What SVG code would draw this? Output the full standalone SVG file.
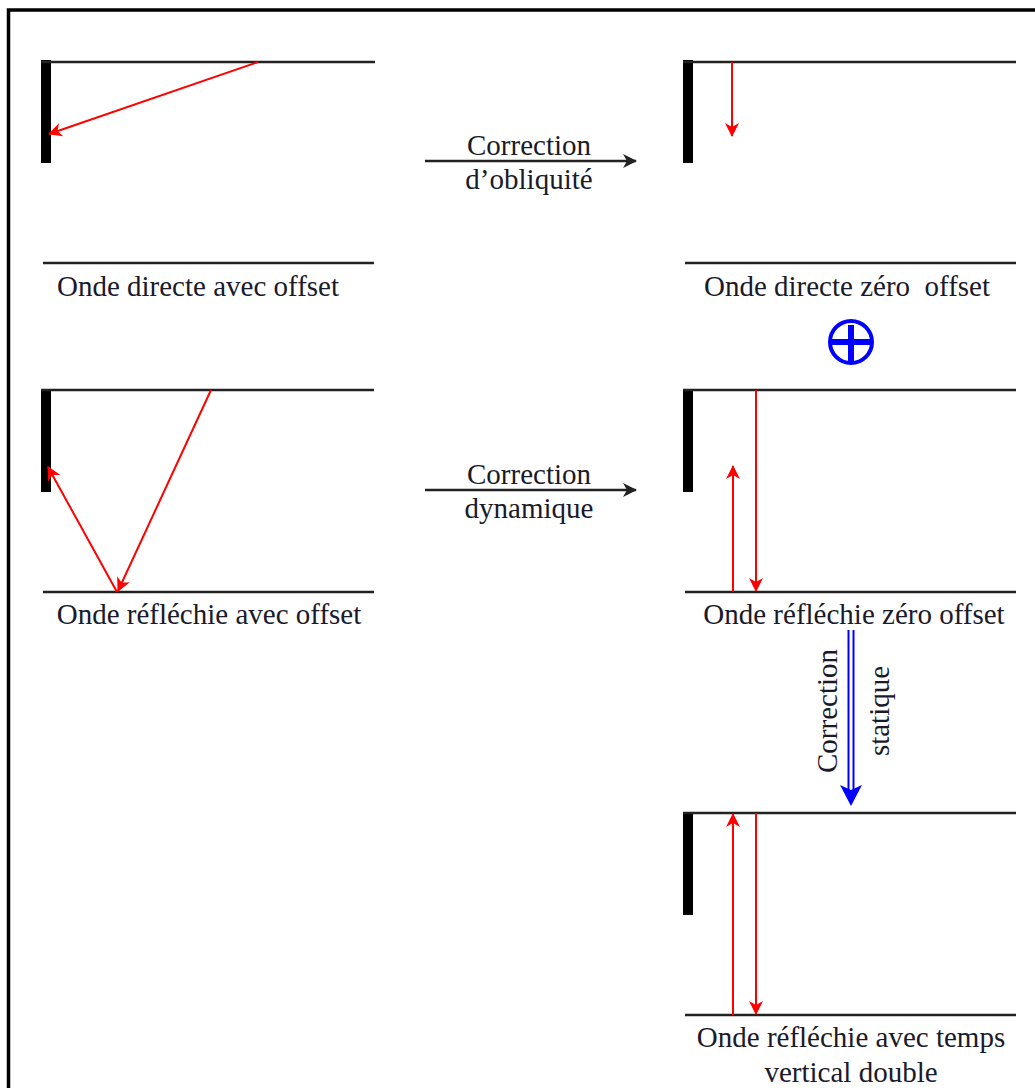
<svg xmlns="http://www.w3.org/2000/svg" width="1035" height="1088" viewBox="0 0 1035 1088">
<style>
.ln{stroke:#222;stroke-width:2.5;fill:none}
.wall{fill:#000}
.ray{stroke:#f00;stroke-width:2;fill:none}
.t{font-family:"Liberation Serif","Times New Roman",serif;font-size:29px;fill:#1a1a2a;text-anchor:middle;white-space:pre}
.arr{stroke:#222;stroke-width:2.5;fill:none}
</style>
<defs>
<marker id="rh" viewBox="0 0 14 14" refX="13" refY="7" markerWidth="14" markerHeight="14" markerUnits="userSpaceOnUse" orient="auto">
<path d="M0,0 L14,7 L0,14 L4,7 Z" fill="#f00"/>
</marker>
<marker id="bh" viewBox="0 0 14 14" refX="13" refY="7" markerWidth="14" markerHeight="14" markerUnits="userSpaceOnUse" orient="auto">
<path d="M0,0 L14,7 L0,14 L4,7 Z" fill="#222"/>
</marker>
</defs>
<rect width="1035" height="1088" fill="#fff"/>
<path d="M8.5,1090 V10 H1040" stroke="#000" stroke-width="3.5" fill="none"/>

<g id="panel-directe-offset">
<rect class="wall" x="41" y="60" width="10" height="103"/>
<line class="ln" x1="41" y1="62" x2="375" y2="62"/>
<line class="ln" x1="43" y1="263" x2="374" y2="263"/>
<line class="ray" x1="258" y1="62" x2="49" y2="134" marker-end="url(#rh)"/>
<text class="t" x="198" y="296">Onde directe avec offset</text>
</g>

<g id="panel-directe-zero">
<rect class="wall" x="683" y="60" width="10" height="103"/>
<line class="ln" x1="683" y1="62" x2="1016" y2="62"/>
<line class="ln" x1="685" y1="263" x2="1016" y2="263"/>
<line class="ray" x1="732" y1="62" x2="732" y2="136" marker-end="url(#rh)"/>
<text class="t" x="847" y="296" xml:space="preserve">Onde directe zéro  offset</text>
</g>

<g id="plus">
<circle cx="851" cy="342" r="21" fill="none" stroke="#00f" stroke-width="4"/>
<rect x="832" y="339" width="38" height="6" fill="#00f"/>
<rect x="848" y="325" width="6" height="37" fill="#00f"/>
</g>

<g id="panel-reflechie-offset">
<rect class="wall" x="41" y="389" width="10" height="103"/>
<line class="ln" x1="41" y1="390" x2="374" y2="390"/>
<line class="ln" x1="43" y1="592" x2="374" y2="592"/>
<line class="ray" x1="211" y1="390" x2="118" y2="591" marker-end="url(#rh)"/>
<line class="ray" x1="117" y1="592" x2="48" y2="467" marker-end="url(#rh)"/>
<text class="t" x="209" y="624">Onde réfléchie avec offset</text>
</g>

<g id="panel-reflechie-zero">
<rect class="wall" x="683" y="389" width="10" height="103"/>
<line class="ln" x1="683" y1="390" x2="1016" y2="390"/>
<line class="ln" x1="685" y1="592" x2="1016" y2="592"/>
<line class="ray" x1="733" y1="592" x2="733" y2="466" marker-end="url(#rh)"/>
<line class="ray" x1="756" y1="390" x2="756" y2="591" marker-end="url(#rh)"/>
<text class="t" x="854" y="624">Onde réfléchie zéro offset</text>
</g>

<g id="panel-temps-vertical">
<rect class="wall" x="683" y="812" width="10" height="103"/>
<line class="ln" x1="683" y1="813" x2="1016" y2="813"/>
<line class="ln" x1="685" y1="1015" x2="1016" y2="1015"/>
<line class="ray" x1="733" y1="1015" x2="733" y2="814" marker-end="url(#rh)"/>
<line class="ray" x1="756" y1="813" x2="756" y2="1014" marker-end="url(#rh)"/>
<text class="t" x="851" y="1047">Onde réfléchie avec temps</text>
<text class="t" x="851" y="1082">vertical double</text>
</g>

<g id="connectors">
<line class="arr" x1="425" y1="161" x2="636" y2="161" marker-end="url(#bh)"/>
<text class="t" x="529" y="155">Correction</text>
<text class="t" x="529" y="189">d’obliquité</text>
<line class="arr" x1="425" y1="490" x2="636" y2="490" marker-end="url(#bh)"/>
<text class="t" x="529" y="484">Correction</text>
<text class="t" x="529" y="518">dynamique</text>
<line x1="848.5" y1="630" x2="848.5" y2="792" stroke="#00f" stroke-width="2"/>
<line x1="853.5" y1="630" x2="853.5" y2="792" stroke="#00f" stroke-width="2"/>
<path d="M840,785 L851,806 L862,785 L851,790 Z" fill="#00f"/>
<text class="t" transform="translate(837,711) rotate(-90)">Correction</text>
<text class="t" transform="translate(889,711) rotate(-90)">statique</text>
</g>
</svg>
